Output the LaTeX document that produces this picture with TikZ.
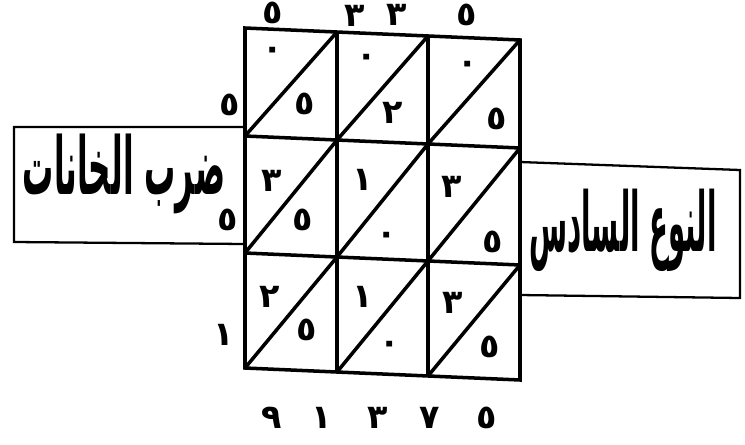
\documentclass[tikz,border=0pt]{standalone}
\usepackage{fontspec}
\usepackage{graphicx}
\newfontfamily\arabicfont[Script=Arabic]{DejaVu Sans}
\TeXXeTstate=1
\tikzset{
  digit/.style={font=\arabicfont\bfseries\fontsize{19}{19}\selectfont, inner sep=0pt},
  title/.style={font=\arabicfont\bfseries\fontsize{20}{20}\selectfont, inner sep=0pt},
  frame/.style={line width=1.3pt},
  grid line/.style={line width=2pt}
}
\begin{document}
\begin{tikzpicture}[x=0.02cm, y=-0.02cm]
    \useasboundingbox (0,0) rectangle (745,444);

    % frames of the two titles
    \draw[frame] (245,127) -- (14,127) -- (14,242) -- (245,244);
    \draw[frame] (520,162) -- (740,170) -- (740,298) -- (520,295);

    % the lattice
    \begin{scope}[shift={(245,28)}, yslant=-0.0436, grid line]
        \draw (0,0) rectangle (275,340);
        \draw (92,0) -- (92,340);
        \draw (183,0) -- (183,340);
        \draw (0,108) -- (275,108);
        \draw (0,225) -- (275,225);
        \draw (0,108) -- (92,0);
        \draw (92,108) -- (183,0);
        \draw (183,108) -- (275,0);
        \draw (0,225) -- (92,108);
        \draw (92,225) -- (183,108);
        \draw (183,225) -- (275,108);
        \draw (0,340) -- (92,225);
        \draw (92,340) -- (183,225);
        \draw (183,340) -- (275,225);
    \end{scope}

    % digits on top
    \node[digit] (t1) at (273,13) {٥};
    \node[digit] (t2) at (355,16) {٣};
    \node[digit] (t3) at (397,15) {٣};
    \node[digit] (t4) at (467,15) {٥};

    % digits on the left
    \node[digit] (l1) at (230,105) {٥};
    \node[digit] (l2) at (228,220) {٥};
    \node[digit] (l3) at (224,335) {١};

    % first row
    \node[digit] (a1) at (273,53) {٠};
    \node[digit] (b1) at (305,104) {٥};
    \node[digit] (a2) at (367,60) {٠};
    \node[digit] (b2) at (393,113) {٢};
    \node[digit] (a3) at (468,67) {٠};
    \node[digit] (b3) at (497,119) {٥};

    % second row
    \node[digit] (c1) at (272,181) {٣};
    \node[digit] (d1) at (303,220) {٥};
    \node[digit] (c2) at (363,180) {١};
    \node[digit] (d2) at (387,238) {٠};
    \node[digit] (c3) at (452,187) {٣};
    \node[digit] (d3) at (493,242) {٥};

    % third row
    \node[digit] (e1) at (270,297) {٢};
    \node[digit] (f1) at (307,330) {٥};
    \node[digit] (e2) at (363,297) {١};
    \node[digit] (f2) at (390,347) {٠};
    \node[digit] (e3) at (453,303) {٣};
    \node[digit] (f3) at (490,347) {٥};

    % digits below
    \node[digit] (r1) at (272,418) {٩};
    \node[digit] (r2) at (322,418) {١};
    \node[digit] (r3) at (378,418) {٣};
    \node[digit] (r4) at (430,418) {٧};
    \node[digit] (r5) at (487,418) {٥};

    % titles
    \node[title] (left) at (124,174) {\resizebox*{4.05cm}{1.6cm}{\beginR ضرب الخانات\endR}};
    \node[title] (right) at (623,230) {\resizebox*{3.75cm}{1.65cm}{\beginR النوع السادس\endR}};
\end{tikzpicture}
\end{document}
